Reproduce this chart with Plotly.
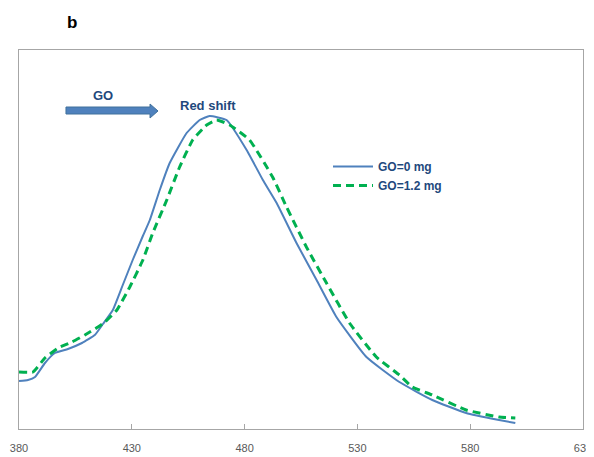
import plotly.graph_objects as go

# Wavelength (nm) and intensity (a.u.)
wl_go0 = [380, 384, 387.1, 391.5, 395.9, 401.7, 407.9, 413.6, 417.2, 421.6, 426, 430.4, 434.9,
          438, 442.4, 446.8, 454.3, 460.1, 464.5, 472, 480.9, 488.1, 494.2, 503, 511.9, 520.7,
          534, 548.6, 563.2, 578.2, 592.8, 600]
int_go0 = [48, 49, 52, 66, 76, 80, 86, 94, 105, 119, 144, 169, 193,
           209, 239, 266, 296, 309, 313, 309, 279, 249, 226, 186, 149, 112,
           72, 47, 29, 16, 9, 6]

wl_go12 = [380, 386.2, 391.5, 397.3, 403.5, 409.2, 415, 418.1, 423.4, 429.1, 434.9, 439.3,
           445.5, 451.2, 457, 463.2, 467.6, 473.4, 482.2, 492.4, 498.6, 507.4, 516.3, 526.5,
           538.4, 548.6, 554.3, 563.2, 578.2, 592.8, 600]
int_go12 = [57, 57, 71, 81, 87, 94, 102, 107, 119, 142, 169, 196,
            229, 262, 289, 304, 309, 304, 289, 252, 222, 182, 146, 106,
            72, 54, 42, 34, 19, 12, 11]

x_ticks = [380, 430, 480, 530, 580, 630]
series_names = ["GO=0 mg", "GO=1.2 mg"]

BLUE = "#4F81BD"
GREEN = "#00B050"
TXT = "#1F497D"

fig = go.Figure()
fig.add_trace(go.Scatter(x=wl_go0, y=int_go0, mode="lines", name="<b>" + series_names[0] + "</b>",
                         line=dict(color=BLUE, width=2, shape="spline", smoothing=0.4)))
fig.add_trace(go.Scatter(x=wl_go12, y=int_go12, mode="lines", name="<b>" + series_names[1] + "</b>",
                         line=dict(color=GREEN, width=3, dash="8px,5px", shape="spline", smoothing=0.4)))

# page body has an 8px margin: figure is offset by 8px
OFF = 8
W, H = 594 - OFF, 457 - OFF
PL, PR, PT, PB = 19, 583, 50, 429   # plot area in page pixels
L, T = PL - OFF, PT - OFF
R = W - (PR - OFF)
B = H - (PB - OFF)
pw, ph = PR - PL, PB - PT

def px(x):
    return (x - PL) / pw

def py(y):
    return (PB - y) / ph

# block arrow (page pixel geometry -> paper coords)
pts = [(66, 107), (150, 107), (150, 104), (158, 111), (150, 118), (150, 114), (66, 114)]
path = "M " + " L ".join(f"{px(a):.4f},{py(b):.4f}" for a, b in pts) + " Z"

fig.update_layout(
    width=W, height=H,
    margin=dict(l=L, r=R, t=T, b=B, autoexpand=False),
    paper_bgcolor="white", plot_bgcolor="white",
    font=dict(family="Liberation Sans, Arial, sans-serif"),
    xaxis=dict(range=[380, 630], tickvals=x_ticks, ticktext=[str(v) for v in x_ticks],
               automargin=False, ticklabelstandoff=9, ticklabeloverflow="allow",
               showgrid=False, zeroline=False, showline=True, mirror=True,
               linecolor="#A6A6A6", linewidth=1, ticks="inside", ticklen=5,
               tickcolor="#A6A6A6", tickfont=dict(size=11, color="#595959")),
    yaxis=dict(range=[0, 379], showgrid=False, zeroline=False, showline=True, mirror=True,
               automargin=False,
               linecolor="#A6A6A6", linewidth=1, showticklabels=False, ticks=""),
    showlegend=True,
    legend=dict(x=px(328), y=py(152), xanchor="left", yanchor="top",
                bgcolor="rgba(0,0,0,0)", font=dict(size=12, color=TXT, family="Liberation Sans, Arial"),
                tracegroupgap=0, itemwidth=40),
    shapes=[dict(type="path", path=path, xref="paper", yref="paper",
                 fillcolor=BLUE, line=dict(color="#41719C", width=1))],
    annotations=[
        dict(text="<b>b</b>", x=px(72), y=py(22), xref="paper", yref="paper", showarrow=False,
             xanchor="center", yanchor="middle", font=dict(size=17, color="black")),
        dict(text="<b>GO</b>", x=px(103), y=py(95), xref="paper", yref="paper", showarrow=False,
             xanchor="center", yanchor="middle", font=dict(size=13, color=TXT)),
        dict(text="<b>Red shift</b>", x=px(208), y=py(105), xref="paper", yref="paper", showarrow=False,
             xanchor="center", yanchor="middle", font=dict(size=13, color=TXT)),
    ],
)

fig.write_html("out.html")
